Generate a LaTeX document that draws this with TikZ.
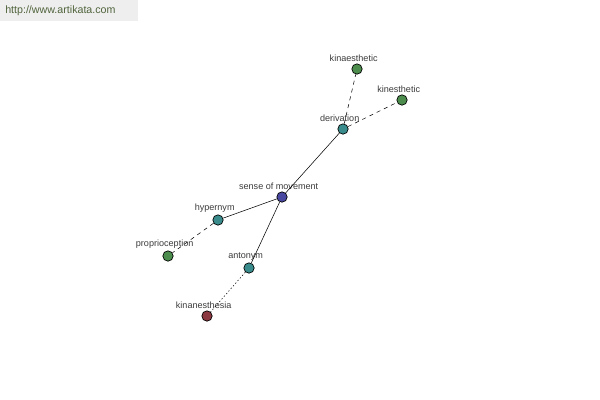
\documentclass[tikz,border=0pt]{standalone}
\usepackage{fontspec}
\setmainfont{Liberation Sans}
\usepackage{tikz}
\usetikzlibrary{positioning}

\definecolor{seedblue}{RGB}{72,72,160}
\definecolor{relteal}{RGB}{58,140,140}
\definecolor{wordgreen}{RGB}{76,140,76}
\definecolor{antired}{RGB}{140,56,64}
\definecolor{bannergrey}{RGB}{238,238,238}
\definecolor{bannertext}{RGB}{80,100,60}
\definecolor{labelgrey}{RGB}{60,60,60}

\tikzset{
  every label/.style={font=\fontsize{6.8}{7}\selectfont, text=labelgrey, inner sep=1pt, xshift=-2.5pt},
  word/.style={circle, draw=black, line width=0.5pt, inner sep=0pt, minimum size=7.8pt},
}

\begin{document}
\begin{tikzpicture}[x=0.75pt,y=-0.75pt]
\useasboundingbox[fill=white] (0,0) rectangle (600,400);
\fill[bannergrey] (0,0) rectangle (138,21);
\node[anchor=west, inner sep=0pt, font=\fontsize{8}{9}\selectfont, text=bannertext] (site) at (5,11) {http://www.artikata.com};
\node [word, fill=seedblue] (noeud1) at (282,197) [label=above:{sense of movement}] {};
\node [word, fill=relteal] (noeud2) at (343,129) [label=above:{derivation}] {};
\node [word, fill=wordgreen] (noeud3) at (357,69) [label=above:{kinaesthetic}] {};
\node [word, fill=wordgreen] (noeud4) at (402,100) [label=above:{kinesthetic}] {};
\node [word, fill=relteal] (noeud5) at (218,220) [label=above:{hypernym}] {};
\node [word, fill=wordgreen] (noeud6) at (168,256) [label=above:{proprioception}] {};
\node [word, fill=relteal] (noeud7) at (249,268) [label=above:{antonym}] {};
\node [word, fill=antired] (noeud8) at (207,316) [label=above:{kinanesthesia}] {};
\draw (noeud1) -- (noeud2);
\draw (noeud1) -- (noeud5);
\draw (noeud1) -- (noeud7);
\draw[dashed] (noeud2) -- (noeud3);
\draw[dashed] (noeud2) -- (noeud4);
\draw[dashed] (noeud5) -- (noeud6);
\draw[dash pattern=on 1pt off 1.6pt] (noeud7) -- (noeud8);
\end{tikzpicture}
\end{document}
